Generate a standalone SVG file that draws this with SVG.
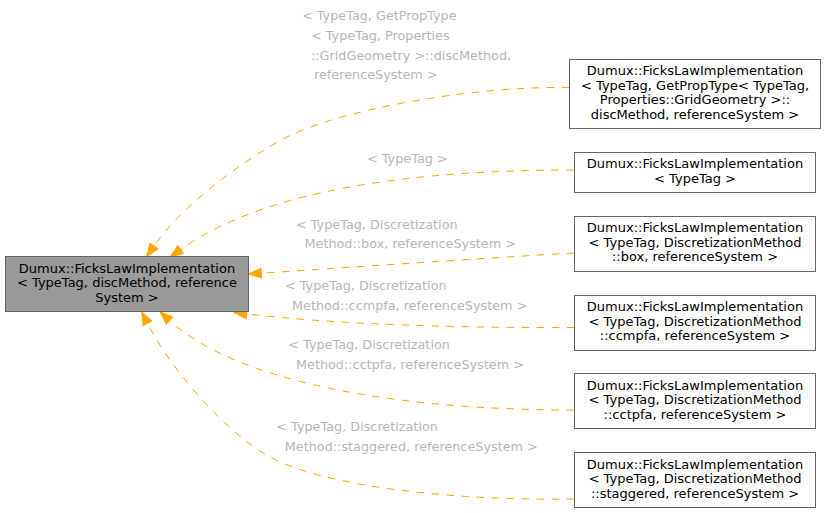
<svg xmlns="http://www.w3.org/2000/svg" width="825" height="513" viewBox="0 0 825 513">
<style>
.nd{fill:#ffffff;stroke:#666666;stroke-width:1}
.main{fill:#999999;stroke:#666666;stroke-width:1}
.nt{font-family:"DejaVu Sans",sans-serif;font-size:13px;fill:#000000;text-anchor:middle}
.el{font-family:"DejaVu Sans",sans-serif;font-size:12.8px;fill:#b8b8b8}
.e{fill:none;stroke:#ffa500;stroke-width:1;stroke-dasharray:7.5,7.5;marker-end:url(#ah)}
</style>
<defs>
<marker id="ah" markerUnits="userSpaceOnUse" viewBox="-1 -6 15 12" markerWidth="15" markerHeight="12" refX="0" refY="0" orient="auto">
<path d="M0,-4.8 L13,0 L0,4.8 z" fill="#ffa500" stroke="#ffa500" stroke-width="1"/>
</marker>
</defs>
<rect width="825" height="513" fill="#ffffff"/>
<g id="connectors">
<path class="e" d="M569,87.5 C470,86 340,110 287,137 C260.3,150.5 188.2,196.8 154,246"/>
<path class="e" d="M574,170 C404,170 262.6,191.5 180.6,249.5"/>
<path class="e" d="M574,253 C470,259 340,268 261.3,273.2"/>
<path class="e" d="M574,327.5 C470,328 340,325 246.7,313.9"/>
<path class="e" d="M574,410 C394,410 236.2,381.7 169.6,320.5"/>
<path class="e" d="M574,499 C460,501 318,487.5 263,453 C224.75,429.2 172.25,372.3 147.5,323.3"/>
</g>
<g id="edge-labels">
<text class="el" x="302" y="20">&lt; TypeTag, GetPropType</text>
<text class="el" x="311" y="40">&lt; TypeTag, Properties</text>
<text class="el" x="311" y="59.5">::GridGeometry &gt;::discMethod,</text>
<text class="el" x="314" y="79">referenceSystem &gt;</text>
<text class="el" x="367" y="163">&lt; TypeTag &gt;</text>
<text class="el" x="296" y="228.5">&lt; TypeTag, Discretization</text>
<text class="el" x="304.5" y="248">Method::box, referenceSystem &gt;</text>
<text class="el" x="285" y="290">&lt; TypeTag, Discretization</text>
<text class="el" x="292" y="309.5">Method::ccmpfa, referenceSystem &gt;</text>
<text class="el" x="288.3" y="349.3">&lt; TypeTag, Discretization</text>
<text class="el" x="296" y="369">Method::cctpfa, referenceSystem &gt;</text>
<text class="el" x="276.3" y="431">&lt; TypeTag, Discretization</text>
<text class="el" x="284.8" y="450.7">Method::staggered, referenceSystem &gt;</text>
</g>
<g id="node-main">
<rect class="main" x="5.5" y="256.5" width="243" height="55"/>
<text class="nt" x="127" y="272.5">Dumux::FicksLawImplementation</text>
<text class="nt" x="127" y="287">&lt; TypeTag, discMethod, reference</text>
<text class="nt" x="127" y="301.5">System &gt;</text>
</g>
<g id="node-1">
<rect class="nd" x="569.5" y="59.5" width="251" height="69"/>
<text class="nt" x="695" y="75">Dumux::FicksLawImplementation</text>
<text class="nt" x="695" y="89.5">&lt; TypeTag, GetPropType&lt; TypeTag,</text>
<text class="nt" x="695" y="104">Properties::GridGeometry &gt;::</text>
<text class="nt" x="695" y="118.5">discMethod, referenceSystem &gt;</text>
</g>
<g id="node-2">
<rect class="nd" x="574.5" y="152.5" width="241" height="40"/>
<text class="nt" x="695" y="168">Dumux::FicksLawImplementation</text>
<text class="nt" x="695" y="182.5">&lt; TypeTag &gt;</text>
</g>
<g id="node-3">
<rect class="nd" x="574.5" y="216.5" width="241" height="55"/>
<text class="nt" x="695" y="232">Dumux::FicksLawImplementation</text>
<text class="nt" x="695" y="246.5">&lt; TypeTag, DiscretizationMethod</text>
<text class="nt" x="695" y="261">::box, referenceSystem &gt;</text>
</g>
<g id="node-4">
<rect class="nd" x="574.5" y="295.5" width="241" height="55"/>
<text class="nt" x="695" y="311">Dumux::FicksLawImplementation</text>
<text class="nt" x="695" y="325.5">&lt; TypeTag, DiscretizationMethod</text>
<text class="nt" x="695" y="340">::ccmpfa, referenceSystem &gt;</text>
</g>
<g id="node-5">
<rect class="nd" x="574.5" y="373.5" width="241" height="55"/>
<text class="nt" x="695" y="389.5">Dumux::FicksLawImplementation</text>
<text class="nt" x="695" y="404">&lt; TypeTag, DiscretizationMethod</text>
<text class="nt" x="695" y="418.5">::cctpfa, referenceSystem &gt;</text>
</g>
<g id="node-6">
<rect class="nd" x="574.5" y="452.5" width="241" height="55"/>
<text class="nt" x="695" y="468.5">Dumux::FicksLawImplementation</text>
<text class="nt" x="695" y="483">&lt; TypeTag, DiscretizationMethod</text>
<text class="nt" x="695" y="497.5">::staggered, referenceSystem &gt;</text>
</g>
</svg>
